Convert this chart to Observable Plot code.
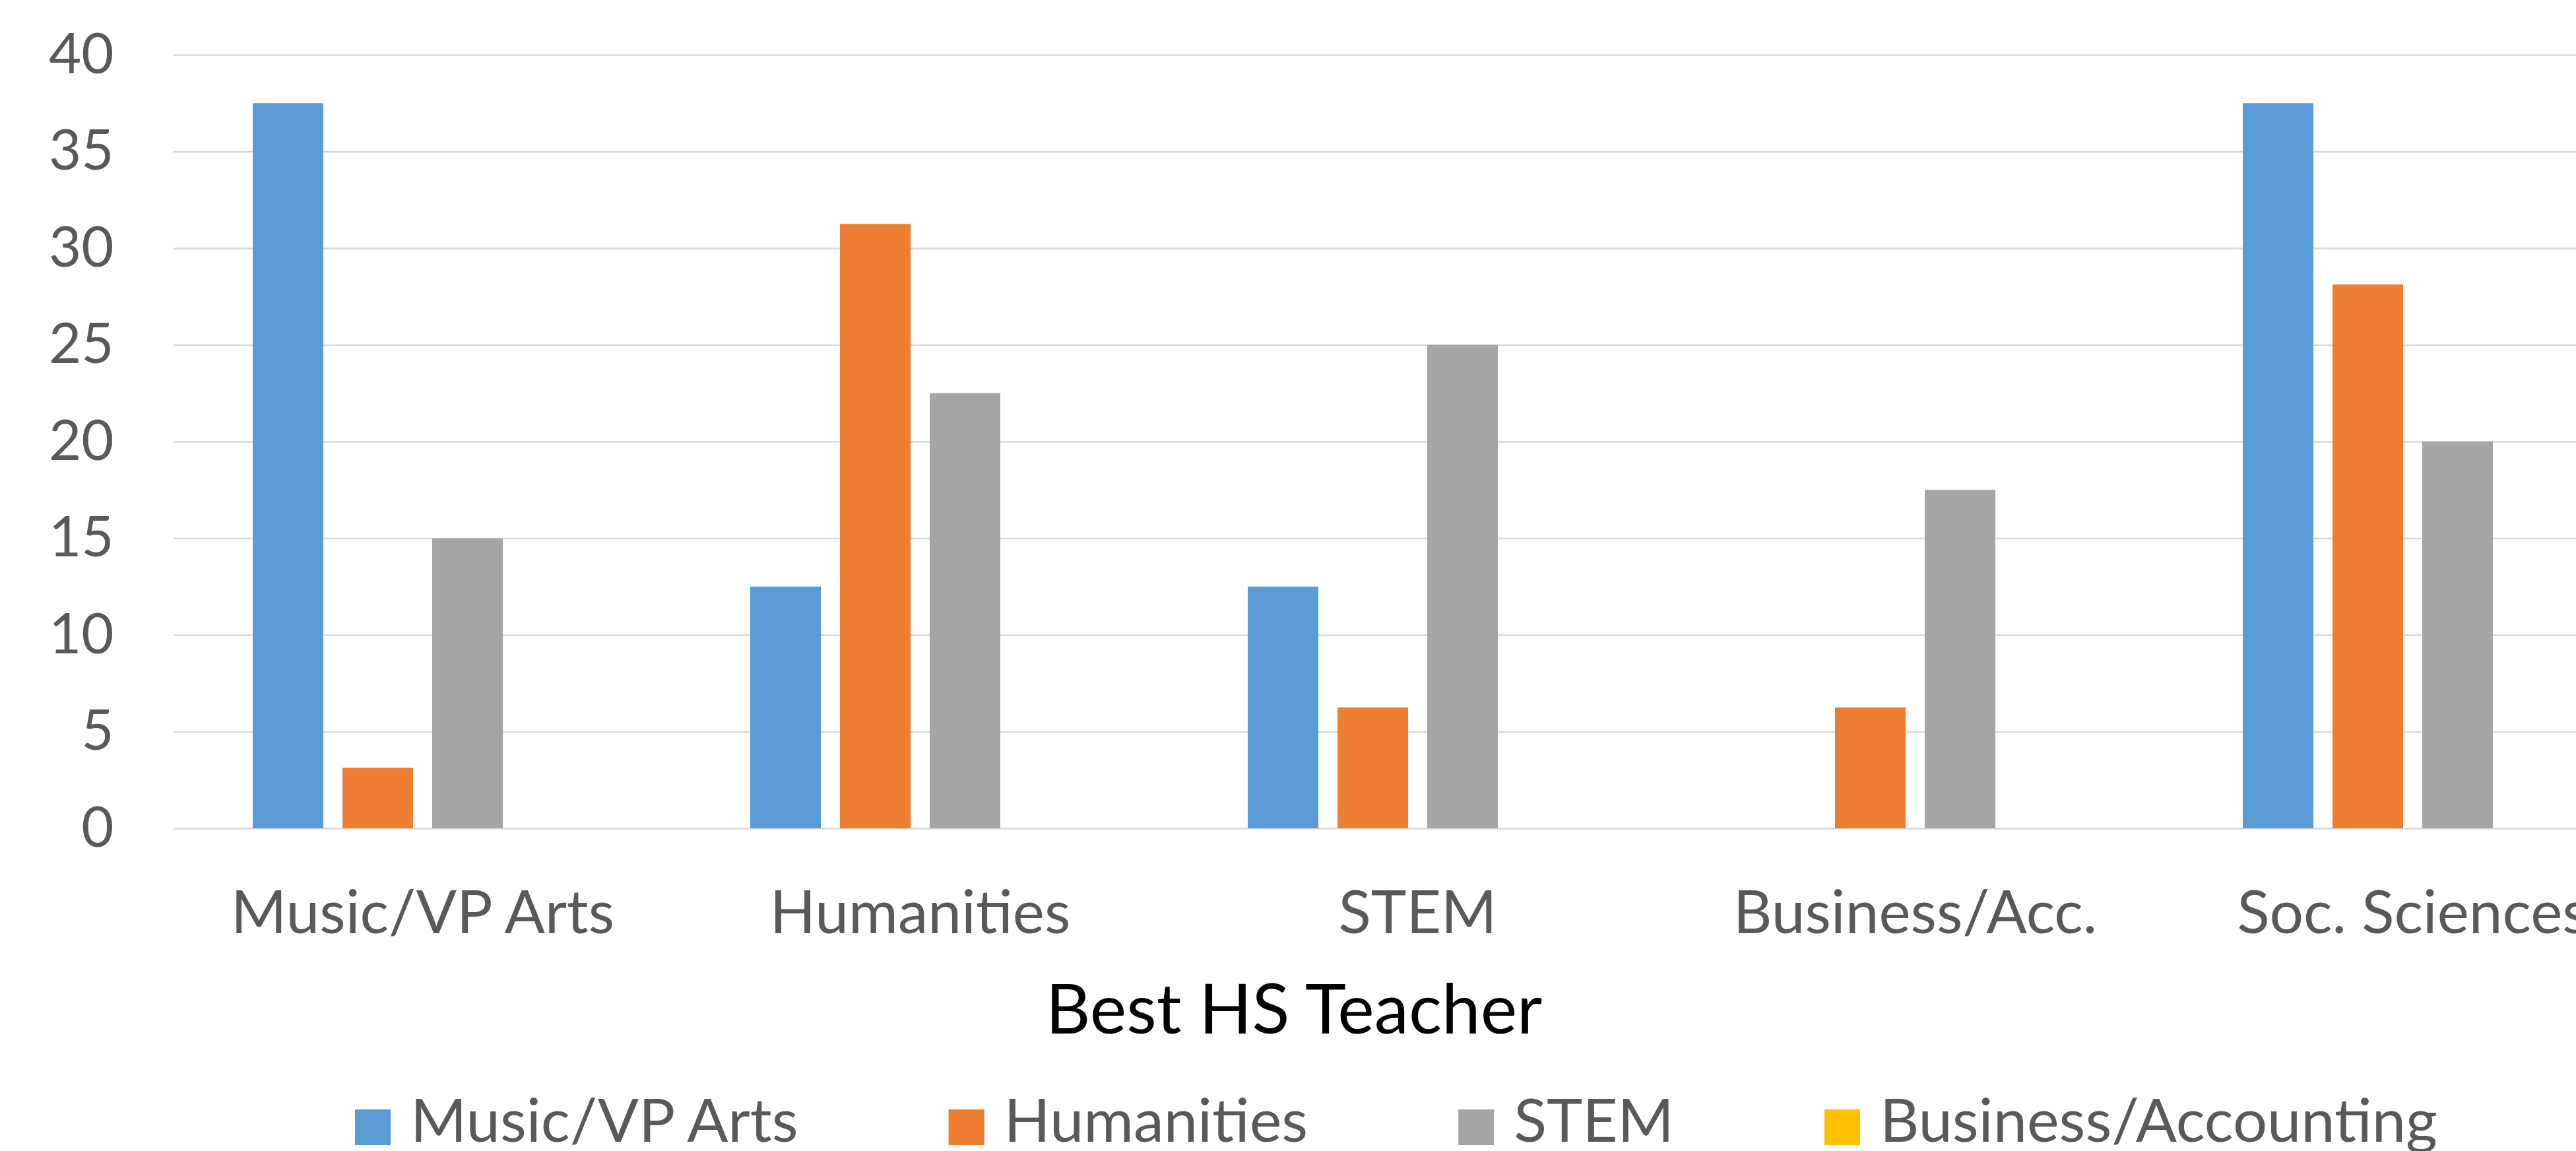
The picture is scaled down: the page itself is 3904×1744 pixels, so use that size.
<!DOCTYPE html>
<html><head><meta charset="utf-8">
<script src="https://cdn.jsdelivr.net/npm/d3@7"></script>
<script src="https://cdn.jsdelivr.net/npm/@observablehq/plot@0.6"></script>
<style>
html,body{margin:0;padding:0;background:#fff;overflow:hidden;}
#wrap{width:3904px;height:1744px;overflow:hidden;position:relative;background:#fff;}
#wrap svg{max-width:none !important;display:block;}
</style></head><body><div id="wrap"><div id="chart"></div><div id="below"></div></div>
<script>
const categories = ["Music/VP Arts", "Humanities", "STEM", "Business/Acc.", "Soc. Sciences"];
const seriesNames = ["Music/VP Arts", "Humanities", "STEM", "Business/Accounting"];
const musicVP = [37.5, 12.5, 12.5, 0, 37.5];
const humanities = [3.125, 31.25, 6.25, 6.25, 28.125];
const stem = [15, 22.5, 25, 17.5, 20];
const businessAcc = [0, 0, 0, 0, 0];
const seriesColors = ["#5B9BD5", "#ED7D31", "#A5A5A5", "#FFC000"];
const yTicks = [0, 5, 10, 15, 20, 25, 30, 35, 40];
const axisTitle = "Best HS Teacher";

const seriesValues = [musicVP, humanities, stem, businessAcc];
const rows = [];
categories.forEach((c, i) => seriesNames.forEach((s, j) => rows.push({category: c, series: s, value: seriesValues[j][i]})));

const FONT = "Lato, 'Open Sans', sans-serif";
const TXT = "#595959";

const plot = Plot.plot({
  width: 4094,
  height: 1440,
  marginLeft: 261,
  marginRight: 60,
  marginTop: 83,
  marginBottom: 185,
  style: {fontFamily: FONT, background: "white", maxWidth: "none", overflow: "visible"},
  fx: {domain: categories, padding: 0, label: null},
  x: {domain: seriesNames, paddingInner: 0.2167, paddingOuter: 0.869, axis: null},
  y: {domain: [0, 40], axis: null},
  color: {domain: seriesNames, range: seriesColors},
  marks: [
    Plot.gridY(yTicks, {stroke: "#d9d9d9", strokeOpacity: 1, strokeWidth: 2.5}),
    Plot.barY(rows, {fx: "category", x: "series", y: "value", fill: "series"}),
    Plot.axisY(yTicks, {tickSize: 0, tickPadding: 91, fontSize: 85, fill: TXT, label: null}),
    Plot.axisFx({anchor: "bottom", tickSize: 0, tickPadding: 94, fontSize: 91, fill: TXT, label: null})
  ]
});
document.getElementById("chart").appendChild(plot);

// Axis title + legend below the plot
const below = d3.select("#below").append("svg")
  .attr("width", 3904).attr("height", 304)
  .style("display", "block")
  .style("font-family", FONT);
below.append("text")
  .attr("x", 1961).attr("y", 126)
  .attr("text-anchor", "middle")
  .attr("font-size", 105)
  .attr("fill", "#000")
  .text(axisTitle);

let lx = 538;
const sw = 54;
seriesNames.forEach((s, j) => {
  const g = below.append("g");
  g.append("rect").attr("x", lx).attr("y", 241).attr("width", sw).attr("height", sw).attr("fill", seriesColors[j]);
  const t = g.append("text").attr("x", lx + sw + 30).attr("y", 290).attr("font-size", 92).attr("fill", TXT).text(s);
  const w = t.node().getComputedTextLength();
  lx = lx + sw + 30 + w + 228;
});
</script></body></html>
